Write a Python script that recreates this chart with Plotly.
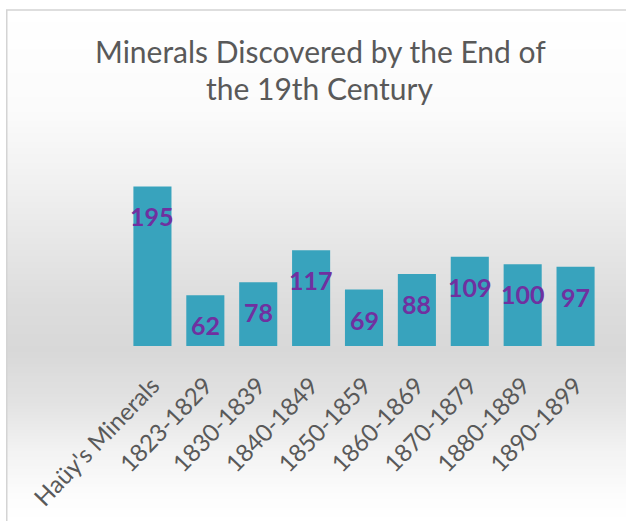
import plotly.graph_objects as go

categories = ["Haüy's Minerals", "1823-1829", "1830-1839", "1840-1849", "1850-1859",
              "1860-1869", "1870-1879", "1880-1889", "1890-1899"]
values = [195, 62, 78, 117, 69, 88, 109, 100, 97]
title_lines = ["Minerals Discovered by the End of", "the 19th Century"]

W, H = 626, 521
L, R, T, B = 125.5, 23.5, 166, 175
pw, ph = W - L - R, H - T - B

def px_to_paper_x(px):
    return (px - L) / pw

def px_to_paper_y(py):
    return (H - B - py) / ph

# background gradient stops (pixel y, gray level)
grad_stops = [(10, 255), (110, 251), (200, 238), (300, 221), (350, 216),
              (400, 226), (450, 242), (495, 252), (521, 255)]

def gray_at(py):
    for (y0, g0), (y1, g1) in zip(grad_stops[:-1], grad_stops[1:]):
        if y0 <= py <= y1:
            t = (py - y0) / (y1 - y0)
            return g0 + (g1 - g0) * t
    return 255

shapes = []
step = 3
y = 10
while y < H:
    g = int(round(gray_at(y + step / 2)))
    shapes.append(dict(type="rect", xref="paper", yref="paper", layer="below",
                       x0=px_to_paper_x(6), x1=px_to_paper_x(W + 5),
                       y0=px_to_paper_y(y), y1=px_to_paper_y(min(y + step + 0.6, H + 5)),
                       fillcolor=f"rgb({g},{g},{g})", line=dict(width=0)))
    y += step
# border
shapes.append(dict(type="rect", xref="paper", yref="paper", layer="below",
                   x0=px_to_paper_x(6), x1=px_to_paper_x(W + 10),
                   y0=px_to_paper_y(10), y1=px_to_paper_y(H + 10),
                   fillcolor="rgba(0,0,0,0)", line=dict(color="#D4D4D4", width=1.5)))

fig = go.Figure()
fig.add_trace(go.Bar(
    x=categories, y=values,
    marker=dict(color="#38A3BD", line=dict(width=0)),
    width=0.72,
))

annotations = []
for c, v in zip(categories, values):
    annotations.append(dict(x=c, y=v, xref="x", yref="y", text=str(v), showarrow=False,
                            yanchor="middle", yshift=-30,
                            font=dict(family="Lato", size=25, color="#7030A0", weight="bold")))
for line, py in zip(title_lines, [51, 88]):
    annotations.append(dict(x=px_to_paper_x(320), y=px_to_paper_y(py), xref="paper", yref="paper",
                            text=line, showarrow=False, xanchor="center", yanchor="middle",
                            font=dict(family="Lato", size=30, color="#595959")))

fig.update_layout(
    width=W, height=H,
    margin=dict(l=L, r=R, t=T, b=B, autoexpand=False),
    paper_bgcolor="white", plot_bgcolor="rgba(0,0,0,0)",
    xaxis=dict(tickangle=-46, showgrid=False, showline=False, zeroline=False,
               tickfont=dict(family="Lato", size=24, color="#595959"),
               ticks="", range=[-0.5, 8.5], automargin=False,
               ticklabelstandoff=20),
    yaxis=dict(range=[0, 220], visible=False, automargin=False),
    shapes=shapes,
    annotations=annotations,
    showlegend=False,
)

fig.write_html("out.html")
